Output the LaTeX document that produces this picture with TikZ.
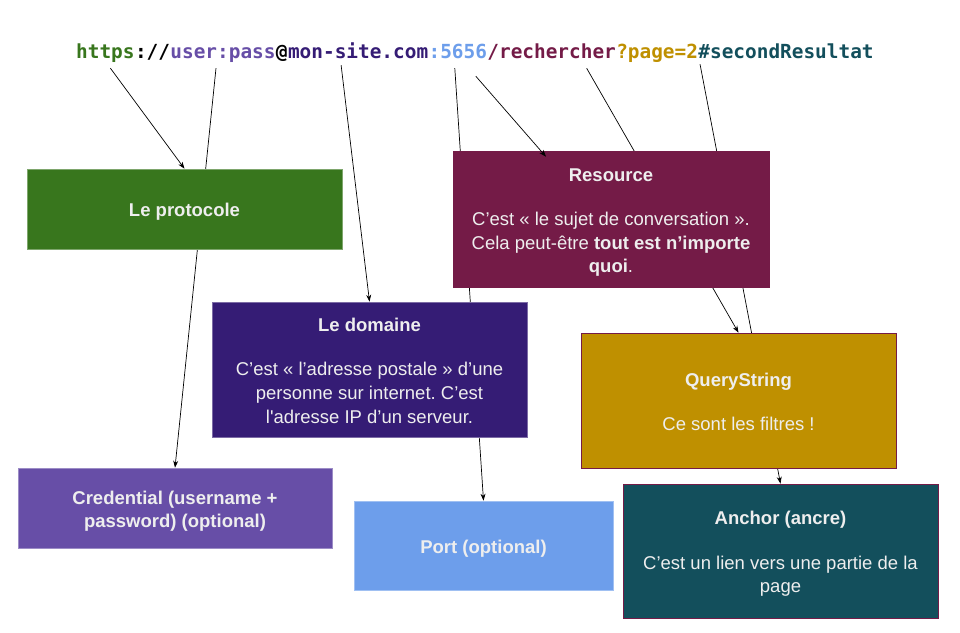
\documentclass[tikz,border=0pt]{standalone}
\usepackage{fontspec}
\setmainfont{Liberation Sans}[Ligatures=TeXOff]
\newfontfamily\urlfont{DejaVu Sans Mono}
\usetikzlibrary{positioning,arrows.meta}
\definecolor{protogreen}{HTML}{38761D}
\definecolor{credviolet}{HTML}{674EA7}
\definecolor{domviolet}{HTML}{351C75}
\definecolor{portblue}{HTML}{6D9EEB}
\definecolor{resmaroon}{HTML}{741B47}
\definecolor{qsgold}{HTML}{BF9000}
\definecolor{ancteal}{HTML}{134F5C}
\definecolor{boxtext}{HTML}{EEEEEE}
\newcommand\boxstrut{\rule[-0.212em]{0pt}{1.279em}}
\frenchspacing
\pgfdeclarelayer{paper}
\pgfdeclarelayer{wires}
\pgfsetlayers{paper,wires,main}

\begin{document}
\begin{tikzpicture}[x=1pt,y=-1pt,
    urlpart/.style={inner sep=0pt,text height=14pt,text depth=5pt,
      font=\urlfont\bfseries\fontsize{19.4}{20}\selectfont},
    part/.style={fill=#1,draw=#1!65!white,line width=0.6pt,text=boxtext,
      align=center,inner sep=0pt,font=\fontsize{18.5}{23.7}\selectfont,
      execute at end node=\boxstrut},
    link/.style={line width=0.7pt,-{Stealth[length=7pt,width=5pt]}}]
    \useasboundingbox (0,0) rectangle (960,632);
    \begin{pgfonlayer}{paper}
        \fill[white] (0,0) rectangle (960,632);
    \end{pgfonlayer}

    \node[urlpart,anchor=base west,text=protogreen] (scheme) at (76,58) {https};
    \node[urlpart,right=0pt of scheme] (sepa) {://};
    \node[urlpart,right=0pt of sepa,text=credviolet] (userinfo) {user:pass};
    \node[urlpart,right=0pt of userinfo] (atsign) {@};
    \node[urlpart,right=0pt of atsign,text=domviolet] (host) {mon-site.com};
    \node[urlpart,right=0pt of host,text=portblue] (portnum) {:5656};
    \node[urlpart,right=0pt of portnum,text=resmaroon] (path) {/rechercher};
    \node[urlpart,right=0pt of path,text=qsgold] (query) {?page=2};
    \node[urlpart,right=0pt of query,text=ancteal] (frag) {\#secondResultat};

    \node[part=protogreen,minimum width=315,minimum height=80] (protocole) at (184.5,209)
        {\boxstrut\textbf{Le protocole}};
    \node[part=resmaroon,draw=resmaroon,minimum width=316,minimum height=136] (resource) at (611,219)
        {\boxstrut\textbf{Resource}\\[-3pt]\mbox{}\\C’est « le sujet de conversation ».\\Cela peut-être \textbf{tout est n’importe}\\\textbf{quoi}.};
    \node[part=domviolet,minimum width=315,minimum height=135] (domaine) at (369.5,369.5)
        {\boxstrut\textbf{Le domaine}\\[-3pt]\mbox{}\\C’est « l’adresse postale » d’une\\personne sur internet. C’est\\l'adresse IP d’un serveur.};
    \node[part=qsgold,draw=resmaroon,minimum width=315,minimum height=135] (querystring) at (738.5,400.5)
        {\boxstrut\textbf{QueryString}\\[-3pt]\mbox{}\\Ce sont les filtres !};
    \node[part=credviolet,minimum width=314,minimum height=80] (credential) at (175,508)
        {\boxstrut\textbf{Credential (username +}\\[-1.5pt]\textbf{password) (optional)}};
    \node[part=portblue,minimum width=259,minimum height=89] (portopt) at (483.5,545.5)
        {\boxstrut\textbf{Port (optional)}};
    \node[part=ancteal,draw=resmaroon,minimum width=315,minimum height=134] (ancre) at (780.5,551)
        {\boxstrut\textbf{Anchor (ancre)}\\[-3pt]\mbox{}\\C’est un lien vers une partie de la\\page};

    \begin{pgfonlayer}{wires}
        \draw[link] ([xshift=5pt,yshift=-5pt]scheme.south) -- (protocole.north);
        \draw[link] ([xshift=-7pt,yshift=-5pt]userinfo.south) -- (credential.north);
        \draw[link] ([xshift=-17pt,yshift=-2pt]host.south) -- (domaine.north);
        \draw[link] ([xshift=-3pt,yshift=-5pt]portnum.south) -- (portopt.north);
        \draw[link] ([xshift=35pt,yshift=-5pt]path.south) -- (querystring.north);
        \draw[link] ([xshift=-86pt,yshift=-1pt]frag.south) -- (ancre.north);
    \end{pgfonlayer}
    \draw[link] ([xshift=18pt,yshift=-13pt]portnum.south) -- ([xshift=-65pt,yshift=-6pt]resource.north);
\end{tikzpicture}
\end{document}
